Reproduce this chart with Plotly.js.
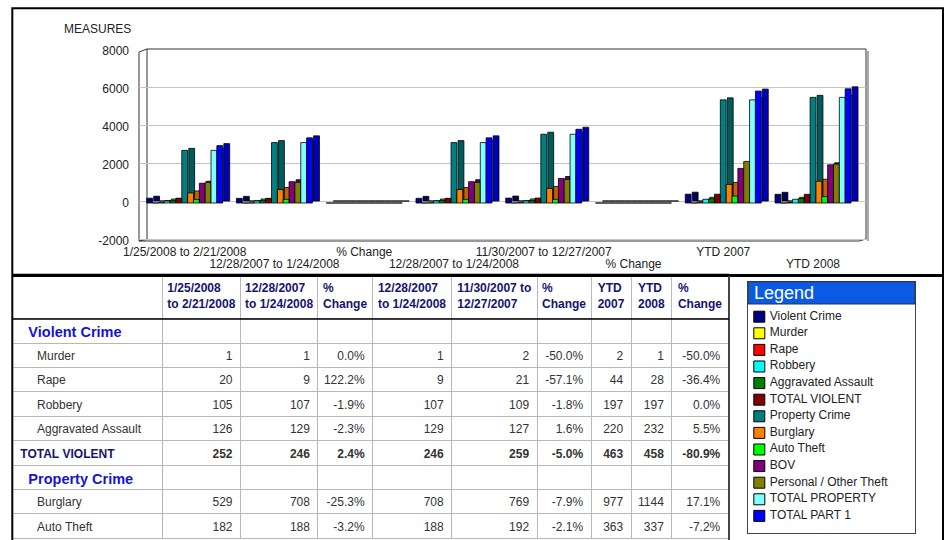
<!DOCTYPE html>
<html>
<head>
<meta charset="utf-8">
<script src="https://cdn.plot.ly/plotly-3.0.1.min.js"></script>
<style>html,body{margin:0;padding:0;background:#fff;}#chart{width:945px;height:540px;}</style>
</head>
<body>
<div id="chart"></div>
<script>
// ---------------- DATA ----------------
const categories = ["1/25/2008 to 2/21/2008", "12/28/2007 to 1/24/2008", "% Change",
  "12/28/2007 to 1/24/2008", "11/30/2007 to 12/27/2007", "% Change", "YTD 2007", "YTD 2008"];

const seriesNames = ["Violent Crime", "Murder", "Rape", "Robbery", "Aggravated Assault",
  "TOTAL VIOLENT", "Property Crime", "Burglary", "Auto Theft", "BOV",
  "Personal / Other Theft", "TOTAL PROPERTY", "TOTAL PART 1"];

const violentCrime  = [252, 246, 0.024, 246, 259, -0.05, 463, 458];
const murder        = [1, 1, 0, 1, 2, -0.5, 2, 1];
const rape          = [20, 9, 1.222, 9, 21, -0.571, 44, 28];
const robbery       = [105, 107, -0.019, 107, 109, -0.018, 197, 197];
const aggAssault    = [126, 129, -0.023, 129, 127, 0.016, 220, 232];
const totalViolent  = [252, 246, 0.024, 246, 259, -0.05, 463, 458];
const propertyCrime = [2770, 3180, -0.129, 3180, 3620, -0.122, 5430, 5560];
const burglary      = [529, 708, -0.253, 708, 769, -0.079, 977, 1144];
const autoTheft     = [182, 188, -0.032, 188, 192, -0.021, 363, 337];
const bov           = [1040, 1120, -0.071, 1120, 1290, -0.132, 1820, 2010];
const personalTheft = [1090, 1090, 0.0, 1090, 1240, -0.121, 2190, 2050];
const totalProperty = [2770, 3180, -0.129, 3180, 3620, -0.122, 5430, 5560];
const totalPart1    = [3020, 3430, -0.120, 3430, 3880, -0.116, 5890, 6010];

const yTicks = [-2000, 0, 2000, 4000, 6000, 8000];
const yTickText = ["-2000", "0", "2000", "4000", "6000", "8000"];

// table
const tableHeaders = ["", "1/25/2008<br>to 2/21/2008", "12/28/2007<br>to 1/24/2008", "%<br>Change",
  "12/28/2007<br>to 1/24/2008", "11/30/2007 to<br>12/27/2007", "%<br>Change", "YTD<br>2007", "YTD<br>2008", "%<br>Change"];
const rowLabels = ["Violent Crime", "Murder", "Rape", "Robbery", "Aggravated Assault",
  "TOTAL VIOLENT", "Property Crime", "Burglary", "Auto Theft"];
const rowKinds = ["section", "item", "item", "item", "item", "total", "section", "item", "item"];
const colPeriod1   = ["", "1", "20", "105", "126", "252", "", "529", "182"];
const colPeriod2   = ["", "1", "9", "107", "129", "246", "", "708", "188"];
const colChange1   = ["", "0.0%", "122.2%", "-1.9%", "-2.3%", "2.4%", "", "-25.3%", "-3.2%"];
const colPeriod3   = ["", "1", "9", "107", "129", "246", "", "708", "188"];
const colPeriod4   = ["", "2", "21", "109", "127", "259", "", "769", "192"];
const colChange2   = ["", "-50.0%", "-57.1%", "-1.8%", "1.6%", "-5.0%", "", "-7.9%", "-2.1%"];
const colYtd2007   = ["", "2", "44", "197", "220", "463", "", "977", "363"];
const colYtd2008   = ["", "1", "28", "197", "232", "458", "", "1144", "337"];
const colChange3   = ["", "-50.0%", "-36.4%", "0.0%", "5.5%", "-80.9%", "", "17.1%", "-7.2%"];

// ---------------- STYLE ----------------
const seriesData = [violentCrime, murder, rape, robbery, aggAssault, totalViolent, propertyCrime,
  burglary, autoTheft, bov, personalTheft, totalProperty, totalPart1];
const frontColors = ["#000080", "#ffff00", "#ff0000", "#00ffff", "#008000", "#800000", "#008080",
  "#ff8000", "#00ff00", "#800080", "#808000", "#80ffff", "#0000ff"];
const sideColors = ["#00005c", "#b8b800", "#b80000", "#00b0b0", "#005800", "#580000", "#005c5c",
  "#c46200", "#00b400", "#5a005a", "#5a5a00", "#58b4b4", "#0000bc"];

const W = 945, H = 540;
const px = x => x / W;
const py = y => 1 - y / H;
const FONT = 'Liberation Sans, Arial, sans-serif';

const PL = 139, PR = 866, PT = 49, PB = 241;
const groupC0 = 184.7, groupPitch = 89.76;
const xr0 = (PL - groupC0) / groupPitch, xr1 = (PR - groupC0) / groupPitch;
const unitPx = 0.019;
const frontZero = 203, wallZero = 201;
const DX = 7;
const yRange = zeroPx => [-(PB - zeroPx) / unitPx, (zeroPx - PT) / unitPx];
const xShift = DX / groupPitch;
const plotDomX = [px(PL), px(PR)], plotDomY = [py(PB), py(PT)];

const idx = categories.map((c, i) => i);
const row1Idx = idx.filter(i => i % 2 === 0);
const row2Idx = idx.filter(i => i % 2 === 1);

const traces = [];
seriesData.forEach((vals, i) => {
  traces.push({
    type: 'bar', x: idx, y: vals, name: seriesNames[i], xaxis: 'x', yaxis: 'y',
    marker: {color: sideColors[i], line: {color: '#000', width: 0.8}},
    hoverinfo: 'skip', showlegend: false
  });
});
seriesData.forEach((vals, i) => {
  traces.push({
    type: 'bar', x: idx, y: vals, name: seriesNames[i], xaxis: 'x2', yaxis: 'y2',
    marker: {color: frontColors[i], line: {color: '#000', width: 0.8}},
    showlegend: false
  });
});

// custom legend
const legendIdx = seriesNames.map((n, i) => i);
traces.push({
  type: 'scatter', mode: 'markers', xaxis: 'x3', yaxis: 'y3',
  x: seriesNames.map(() => 11), y: legendIdx,
  marker: {symbol: 'square', size: 11, color: frontColors, line: {color: '#000', width: 1}},
  hoverinfo: 'skip', showlegend: false, cliponaxis: false
});
traces.push({
  type: 'scatter', mode: 'text', xaxis: 'x3', yaxis: 'y3',
  x: seriesNames.map(() => 21.5), y: legendIdx, text: seriesNames,
  textposition: 'middle right', textfont: {size: 12, color: '#222', family: FONT},
  hoverinfo: 'skip', showlegend: false, cliponaxis: false
});

// table
const nb = n => '\u00a0'.repeat(n);
const noWrap = s => s.replace(/ /g, '\u00a0');
const labelText = rowLabels.map((l, i) => rowKinds[i] === 'section' ? nb(2) + noWrap(l)
  : rowKinds[i] === 'total' ? noWrap(l) : nb(5) + noWrap(l));
const labelColor = rowKinds.map(k => k === 'section' ? '#1414d2' : k === 'total' ? '#14146e' : '#333');
const labelSize = rowKinds.map(k => k === 'section' ? 14.5 : 12);
const rowWeight = rowKinds.map(k => k === 'item' ? 'normal' : 'bold');
const numCols = [colPeriod1, colPeriod2, colChange1, colPeriod3, colPeriod4, colChange2, colYtd2007, colYtd2008, colChange3];
const TABLE_TOP = 273, HEADER_BOTTOM = 319;
traces.push({
  type: 'table',
  domain: {x: [px(12.3), px(729)], y: [0, py(TABLE_TOP)]},
  columnwidth: [150, 78, 77.4, 54.6, 79, 85.4, 54, 40, 40.6, 56.4],
  header: {
    values: tableHeaders.map(h => h.split('<br>').map(noWrap).join('<br>')),
    align: 'center', height: 40,
    font: {size: 12, color: '#14146e', family: FONT, weight: 'bold'},
    fill: {color: '#fff'}, line: {color: '#b8b8b8', width: 1}
  },
  cells: {
    values: [labelText].concat(numCols),
    align: ['left'].concat(numCols.map(() => 'right')),
    height: 24.4,
    font: {
      family: FONT,
      size: [labelSize].concat(numCols.map(() => 12)),
      color: [labelColor].concat(numCols.map(() => '#333')),
      weight: [rowWeight].concat(numCols.map(() => rowWeight))
    },
    fill: {color: '#fff'}, line: {color: '#b8b8b8', width: 1}
  }
});

const quiet = {showgrid: false, zeroline: false, showline: false, ticks: '', fixedrange: true};
const layout = {
  width: W, height: H,
  margin: {l: 0, r: 0, t: 0, b: 0, pad: 0},
  paper_bgcolor: '#fff', plot_bgcolor: 'rgba(0,0,0,0)',
  font: {family: FONT, size: 12, color: '#222'},
  showlegend: false,
  barmode: 'group', bargap: 1 - 76 / groupPitch, bargroupgap: 0,
  // back faces + second row of category labels
  xaxis: Object.assign({}, quiet, {
    domain: plotDomX, range: [xr0 - xShift, xr1 - xShift], anchor: 'y',
    tickmode: 'array', tickvals: row2Idx.map(i => i - xShift), ticktext: row2Idx.map(i => categories[i]),
    tickangle: 0, tickfont: {size: 12, color: '#222'}, ticklabelstandoff: 14
  }),
  // back wall gridlines
  yaxis: Object.assign({}, quiet, {
    domain: plotDomY, range: yRange(wallZero), anchor: 'x',
    tickmode: 'array', tickvals: yTicks, showticklabels: false,
    showgrid: true, gridcolor: '#c4c4c4', gridwidth: 1
  }),
  // front faces + first row of category labels
  xaxis2: Object.assign({}, quiet, {
    overlaying: 'x', anchor: 'y2', domain: plotDomX, range: [xr0, xr1], side: 'bottom',
    tickmode: 'array', tickvals: row1Idx, ticktext: row1Idx.map(i => categories[i]), tickangle: 0,
    tickfont: {size: 12, color: '#222'}, ticklabelstandoff: 2
  }),
  yaxis2: Object.assign({}, quiet, {
    overlaying: 'y', anchor: 'x2', domain: plotDomY, range: yRange(frontZero), side: 'left',
    tickmode: 'array', tickvals: yTicks, ticktext: yTickText,
    ticklabelstandoff: 9, tickfont: {size: 12, color: '#222'}
  }),
  xaxis3: {domain: [px(748.3), px(915)], range: [0, 915 - 748.3], anchor: 'y3',
    showline: true, mirror: true, linecolor: '#444', linewidth: 1, showgrid: false, zeroline: false,
    showticklabels: false, ticks: '', fixedrange: true},
  yaxis3: {domain: [py(533.3), py(281.7)], range: [-2.108 + 251.6 / 16.6, -2.108], anchor: 'x3',
    showline: true, mirror: true, linecolor: '#444', linewidth: 1, showgrid: false, zeroline: false,
    showticklabels: false, ticks: '', fixedrange: true},
  shapes: [
    {type: 'rect', xref: 'paper', yref: 'paper', layer: 'between', x0: px(PL), x1: px(147), y0: py(PB), y1: py(PT),
      fillcolor: '#fff', line: {width: 0}},
    {type: 'rect', xref: 'paper', yref: 'paper', layer: 'between', x0: px(147), x1: px(866), y0: py(239.5), y1: py(49),
      line: {color: '#333', width: 1}},
    {type: 'line', xref: 'paper', yref: 'paper', layer: 'between', x0: px(139), x1: px(139), y0: py(52), y1: py(241),
      line: {color: '#333', width: 1}},
    {type: 'line', xref: 'paper', yref: 'paper', layer: 'between', x0: px(139), x1: px(147), y0: py(52), y1: py(49),
      line: {color: '#333', width: 1}},
    {type: 'line', xref: 'paper', yref: 'paper', layer: 'between', x0: px(139), x1: px(859), y0: py(241), y1: py(241),
      line: {color: '#333', width: 1}},
    {type: 'line', xref: 'paper', yref: 'paper', layer: 'between', x0: px(859), x1: px(866), y0: py(241), y1: py(239),
      line: {color: '#333', width: 1}},
    {type: 'line', xref: 'paper', yref: 'paper', layer: 'between', x0: px(139), x1: px(147), y0: py(241), y1: py(239.5),
      line: {color: '#333', width: 1}},
    {type: 'line', xref: 'paper', yref: 'paper', layer: 'below', x0: px(868), x1: px(868), y0: py(51), y1: py(241),
      line: {color: '#aaa', width: 2}},
    // frame
    {type: 'rect', xref: 'paper', yref: 'paper', layer: 'above', x0: px(12.3), x1: px(943), y0: py(560), y1: py(8.3),
      line: {color: '#000', width: 2}},
    {type: 'line', xref: 'paper', yref: 'paper', layer: 'above', x0: px(12.3), x1: px(943), y0: py(275.5), y1: py(275.5),
      line: {color: '#000', width: 3}},
    {type: 'line', xref: 'paper', yref: 'paper', layer: 'above', x0: px(729), x1: px(729), y0: py(276), y1: py(545),
      line: {color: '#444', width: 2}},
    {type: 'line', xref: 'paper', yref: 'paper', layer: 'above', x0: px(12.3), x1: px(729), y0: py(HEADER_BOTTOM), y1: py(HEADER_BOTTOM),
      line: {color: '#000', width: 1.5}},
    // legend title bar
    {type: 'rect', xref: 'paper', yref: 'paper', layer: 'above', x0: px(748.3), x1: px(915), y0: py(304), y1: py(281.7),
      fillcolor: '#0a5ae6', line: {color: '#333', width: 1}}
  ],
  annotations: [
    {text: '<b>COMPSTAT REPORT - AREA COMMAND PROFILE</b>', xref: 'paper', yref: 'paper', x: px(478), y: py(4),
      xanchor: 'center', yanchor: 'bottom', showarrow: false, font: {size: 15, color: '#3b3bff'}},
    {text: 'MEASURES', xref: 'paper', yref: 'paper', x: px(62), y: py(29), xanchor: 'left', yanchor: 'middle',
      showarrow: false, font: {size: 12, color: '#222'}},
    {text: 'Legend', xref: 'paper', yref: 'paper', x: px(752), y: py(293), xanchor: 'left', yanchor: 'middle',
      showarrow: false, font: {size: 18, color: '#fff'}}
  ]
};

Plotly.newPlot('chart', traces, layout, {staticPlot: true, displayModeBar: false});
</script>
</body>
</html>
